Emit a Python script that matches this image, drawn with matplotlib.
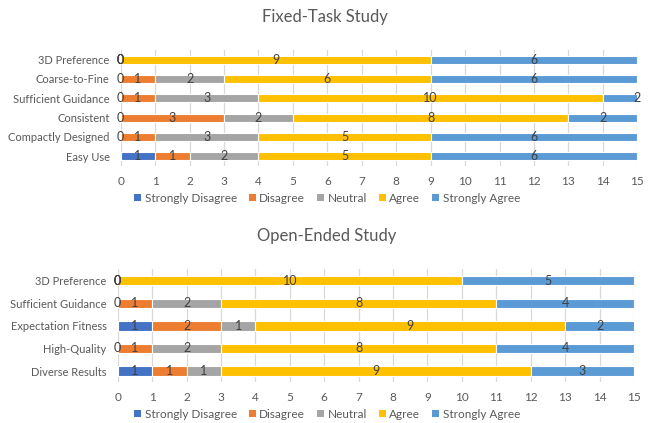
import numpy as np
import matplotlib.pyplot as plt
from matplotlib.patches import Patch

plt.rcParams['font.family'] = ['Lato', 'DejaVu Sans']

levels = ['Strongly Disagree', 'Disagree', 'Neutral', 'Agree', 'Strongly Agree']
colors = ['#4472C4', '#ED7D31', '#A5A5A5', '#FFC000', '#5B9BD5']

# bottom-to-top order, one list per answer level
fixed_items = ['Easy Use', 'Compactly Designed', 'Consistent',
               'Sufficient Guidance', 'Coarse-to-Fine', '3D Preference']
fixed_sd = [1, 0, 0, 0, 0, 0]
fixed_d = [1, 1, 3, 1, 1, 0]
fixed_n = [2, 3, 2, 3, 2, 0]
fixed_a = [5, 5, 8, 10, 6, 9]
fixed_sa = [6, 6, 2, 2, 6, 6]

open_items = ['Diverse Results', 'High-Quality', 'Expectation Fitness',
              'Sufficient Guidance', '3D Preference']
open_sd = [1, 0, 1, 0, 0]
open_d = [1, 1, 2, 1, 0]
open_n = [1, 2, 1, 2, 0]
open_a = [9, 8, 9, 8, 10]
open_sa = [3, 4, 2, 4, 5]

xticks = list(range(0, 16))
txt = '#595959'


def draw(ax, items, series):
    y = np.arange(len(items))
    left = np.zeros(len(items))
    for vals, c in zip(series, colors):
        vals = np.array(vals, dtype=float)
        ax.barh(y, vals, left=left, height=0.42, color=c,
                edgecolor='white', linewidth=0.8, zorder=3)
        for yi, l, v in zip(y, left, vals):
            ax.text(l + v / 2, yi, '%d' % v, ha='center', va='center',
                    fontsize=9, color='#404040', zorder=4, clip_on=False)
        left += vals
    ax.set_xlim(0, 15)
    ax.set_ylim(-0.5, len(items) - 0.5)
    ax.set_xticks(xticks)
    ax.set_yticks(y)
    ax.set_yticklabels(items)
    ax.tick_params(length=0, labelsize=8, colors=txt)
    ax.tick_params(axis='x', labelsize=8.5, pad=7)
    ax.tick_params(axis='y', pad=8)
    ax.grid(axis='x', color='#D9D9D9', linewidth=0.9, zorder=0)
    for s in ax.spines.values():
        s.set_visible(False)


fig = plt.figure(figsize=(6.55, 4.23), dpi=100)
ax1 = fig.add_axes([0.1843, 0.6076, 0.7887, 0.2742])
ax2 = fig.add_axes([0.1797, 0.0962, 0.7882, 0.2669])

draw(ax1, fixed_items, [fixed_sd, fixed_d, fixed_n, fixed_a, fixed_sa])
draw(ax2, open_items, [open_sd, open_d, open_n, open_a, open_sa])

fig.text(325 / 655, 1 - 17 / 423, 'Fixed-Task Study', ha='center', va='center',
         fontsize=12, color=txt)
fig.text(327 / 655, 1 - 236 / 423, 'Open-Ended Study', ha='center', va='center',
         fontsize=12, color=txt)

handles = [Patch(facecolor=c, edgecolor='none') for c in colors]
for yy in [198, 414]:
    fig.legend(handles, levels, loc='center', bbox_to_anchor=(327 / 655, 1 - yy / 423),
               ncol=5, frameon=False, fontsize=8.5, labelcolor=txt,
               handlelength=0.6, handleheight=0.6, handletextpad=0.3,
               columnspacing=1.0)

fig.savefig('out.png', dpi=100)
